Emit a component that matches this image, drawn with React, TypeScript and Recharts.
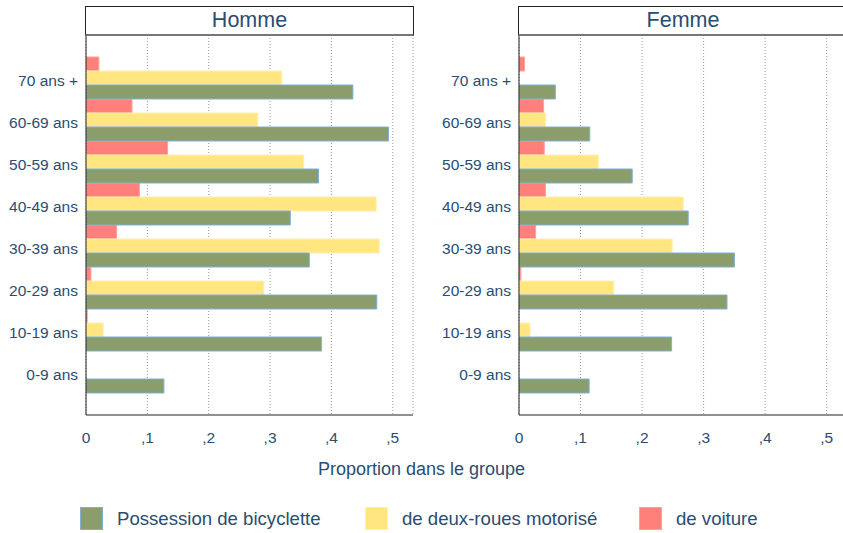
import { BarChart, Bar, XAxis, YAxis, CartesianGrid } from 'recharts';

const ages = ['70 ans +', '60-69 ans', '50-59 ans', '40-49 ans', '30-39 ans', '20-29 ans', '10-19 ans', '0-9 ans'];

const hommeVelo = [0.435, 0.493, 0.379, 0.333, 0.364, 0.474, 0.384, 0.127];
const hommeMoto = [0.319, 0.28, 0.355, 0.473, 0.478, 0.29, 0.028, 0];
const hommeVoiture = [0.021, 0.075, 0.133, 0.087, 0.05, 0.008, 0.002, 0];

const femmeVelo = [0.059, 0.115, 0.184, 0.275, 0.35, 0.338, 0.248, 0.114];
const femmeMoto = [0, 0.043, 0.129, 0.267, 0.249, 0.154, 0.018, 0];
const femmeVoiture = [0.009, 0.04, 0.041, 0.043, 0.027, 0.003, 0, 0];

const xTicks = [0, 0.1, 0.2, 0.3, 0.4, 0.5];

const FONT = '"Liberation Sans", Arial, sans-serif';
const TEXT = '#2a4d72';
const GREEN = '#8a9d6a';
const YELLOW = '#ffe680';
const RED = '#ff807a';

const legendItems = [
  { label: 'Possession de bicyclette', fill: GREEN, stroke: '#7eb0d9', x: 80 },
  { label: 'de deux-roues motorisé', fill: YELLOW, stroke: '#fff0b0', x: 365 },
  { label: 'de voiture', fill: RED, stroke: '#ff9f99', x: 639 },
];

const build = (velo: number[], moto: number[], voiture: number[]) =>
  ages.map((age, i) => ({ age, velo: velo[i], moto: moto[i], voiture: voiture[i] }));

const fmtTick = (v: number) => (v === 0 ? '0' : ',' + Math.round(v * 10));

function Panel({ title, data, left, width }: { title: string; data: any[]; left: number; width: number }) {
  return (
    <div style={{ position: 'absolute', left, top: 0 }}>
      <BarChart
        width={width}
        height={460}
        data={data}
        layout="vertical"
        barCategoryGap={0}
        barGap={0}
        margin={{ top: 35, right: 2, bottom: 15, left: 0 }}
      >
        <CartesianGrid horizontal={false} stroke="#999" strokeDasharray="1 2" />
        <XAxis
          type="number"
          domain={[0, 0.533]}
          ticks={xTicks}
          allowDataOverflow
          tickFormatter={fmtTick}
          tickLine={false}
          tickSize={0}
          tickMargin={17}
          height={30}
          axisLine={{ stroke: '#222' }}
          tick={{ fill: TEXT, fontSize: 15.5, fontFamily: FONT }}
        />
        <YAxis
          type="category"
          dataKey="age"
          width={86}
          padding={{ top: 22, bottom: 22 }}
          tickLine={false}
          tickSize={0}
          tickMargin={8}
          axisLine={{ stroke: '#222' }}
          tick={{ fill: TEXT, fontSize: 15.5, fontFamily: FONT, dy: 2 }}
        />
        <Bar dataKey="voiture" fill={RED} stroke="#ff9f99" strokeWidth={1} isAnimationActive={false} />
        <Bar dataKey="moto" fill={YELLOW} stroke="#fff0b0" strokeWidth={1} isAnimationActive={false} />
        <Bar dataKey="velo" fill={GREEN} stroke="#7eb0d9" strokeWidth={1} isAnimationActive={false} />
      </BarChart>
      <div
        style={{
          position: 'absolute',
          left: 85,
          top: 6,
          width: width - 85 - 1,
          height: 30,
          boxSizing: 'border-box',
          borderTop: '1px solid #222',
          borderLeft: '1px solid #222',
          borderRight: '1px solid #222',
          borderBottom: '2px solid #777',
          background: '#fff',
          color: TEXT,
          fontFamily: FONT,
          fontSize: 21.5,
          lineHeight: '27px',
          textAlign: 'center',
        }}
      >
        {title}
      </div>
    </div>
  );
}

export default function App() {
  const homme = build(hommeVelo, hommeMoto, hommeVoiture);
  const femme = build(femmeVelo, femmeMoto, femmeVoiture);
  return (
    <div
      style={{
        position: 'absolute',
        left: 0,
        top: 0,
        width: 843,
        height: 533,
        overflow: 'hidden',
        background: '#fff',
        fontFamily: FONT,
      }}
    >
      <Panel title="Homme" data={homme} left={0} width={415} />
      <Panel title="Femme" data={femme} left={433} width={416} />
      <div
        style={{
          position: 'absolute',
          left: 0,
          width: 843,
          top: 457,
          textAlign: 'center',
          fontSize: 18,
          color: TEXT,
          lineHeight: '24px',
        }}
      >
        Proportion dans le groupe
      </div>
      {legendItems.map((it) => (
        <div key={it.label} style={{ position: 'absolute', left: it.x, top: 507, display: 'flex', alignItems: 'center' }}>
          <div
            style={{
              width: 23,
              height: 23,
              boxSizing: 'border-box',
              background: it.fill,
              border: `1px solid ${it.stroke}`,
            }}
          />
          <span style={{ marginLeft: 14, fontSize: 18.6, color: TEXT, lineHeight: '23px', whiteSpace: 'nowrap' }}>
            {it.label}
          </span>
        </div>
      ))}
    </div>
  );
}
